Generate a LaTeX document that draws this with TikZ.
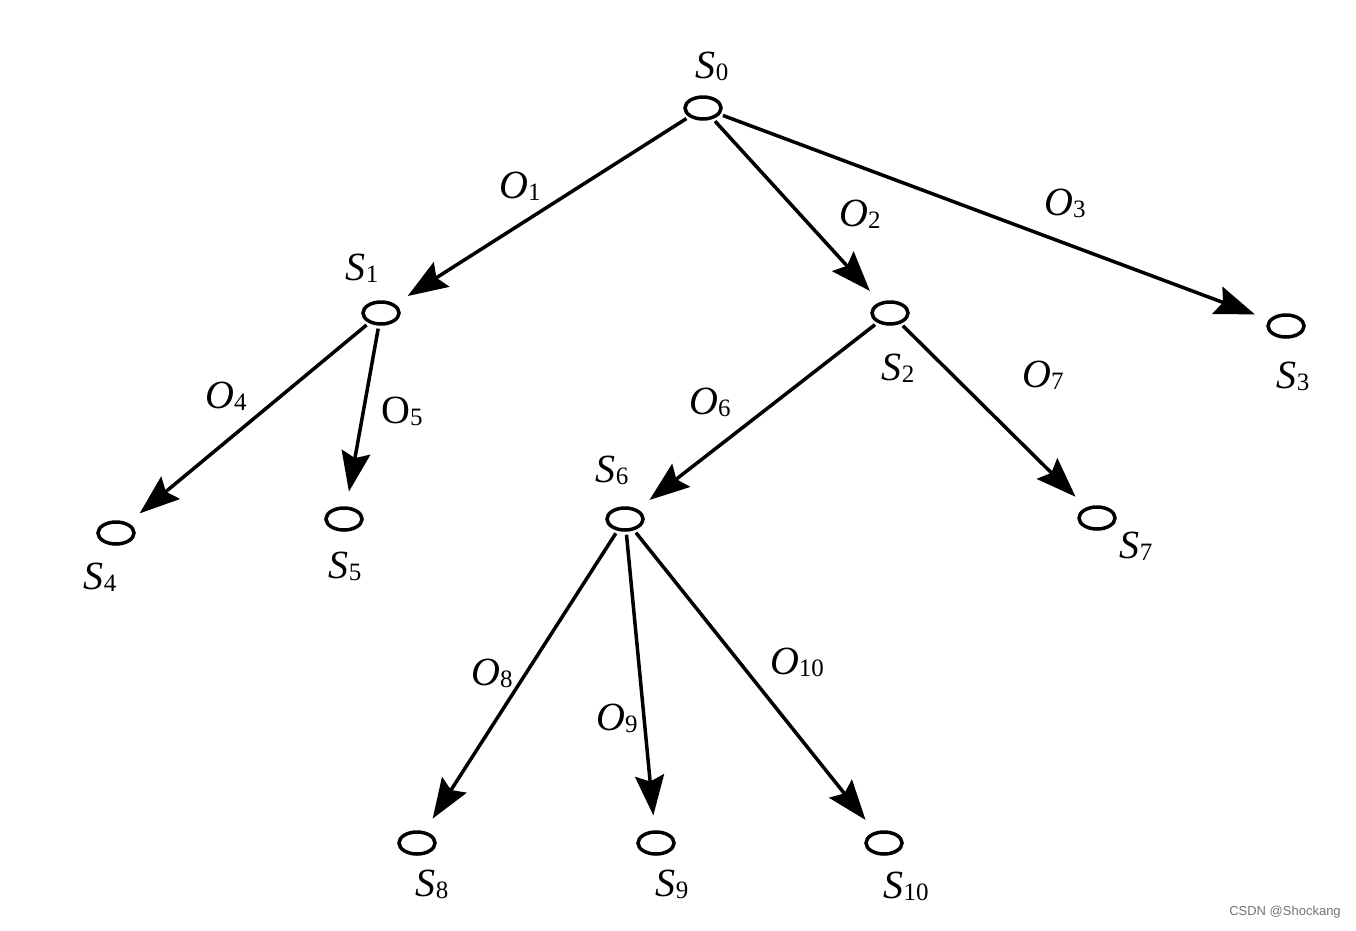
\documentclass[tikz,border=0pt]{standalone}
\usepackage{fontspec}
\setmainfont{Liberation Serif}
\newfontfamily\wmfont{Liberation Sans}
\usetikzlibrary{shapes.geometric,arrows.meta}
\newcommand{\lab}[2]{{\fontsize{40}{40}\selectfont\itshape #1}\raisebox{-0.2em}{\fontsize{25}{25}\selectfont\upshape #2}}
\newcommand{\labup}[2]{{\fontsize{40}{40}\selectfont\upshape #1}\raisebox{-0.2em}{\fontsize{25}{25}\selectfont\upshape #2}}
\tikzset{
  st/.style={ellipse,draw,line width=3.5pt,minimum width=36pt,minimum height=22pt,inner sep=0pt},
  tx/.style={inner sep=0pt,anchor=center},
  arr/.style={line width=3.5pt,-{Stealth[length=40pt,width=29pt,inset=6pt]},shorten >=15pt,shorten <=3pt}
}
\begin{document}
\begin{tikzpicture}[x=1pt,y=-1pt]
\useasboundingbox (0,0) rectangle (1356,930);
\fill[white] (0,0) rectangle (1356,930);
\node[st] (s0) at (703,108) {};
\node[st] (s1) at (381,313) {};
\node[st] (s2) at (890,313) {};
\node[st] (s3) at (1286,326) {};
\node[st] (s4) at (116,533) {};
\node[st] (s5) at (344,519) {};
\node[st] (s6) at (625,519) {};
\node[st] (s7) at (1097,518) {};
\node[st] (s8) at (417,843) {};
\node[st] (s9) at (656,843) {};
\node[st] (s10) at (884,843) {};
\node[tx] (l0) at (712,66) {\lab{S}{0}};
\node[tx] (l1) at (362,268) {\lab{S}{1}};
\node[tx] (l2) at (898,368) {\lab{S}{2}};
\node[tx] (l3) at (1293,376) {\lab{S}{3}};
\node[tx] (l4) at (100,577) {\lab{S}{4}};
\node[tx] (l5) at (345,566) {\lab{S}{5}};
\node[tx] (l6) at (612,470) {\lab{S}{6}};
\node[tx] (l7) at (1136,546) {\lab{S}{7}};
\node[tx] (l8) at (432,884) {\lab{S}{8}};
\node[tx] (l9) at (672,884) {\lab{S}{9}};
\node[tx] (l10) at (906,886) {\lab{S}{10}};
\node[tx] (o1) at (520,186) {\lab{O}{1}};
\node[tx] (o2) at (860,214) {\lab{O}{2}};
\node[tx] (o3) at (1065,203) {\lab{O}{3}};
\node[tx] (o4) at (226,396) {\lab{O}{4}};
\node[tx] (o5) at (402,411) {\labup{O}{5}};
\node[tx] (o6) at (710,402) {\lab{O}{6}};
\node[tx] (o7) at (1043,375) {\lab{O}{7}};
\node[tx] (o8) at (492,673) {\lab{O}{8}};
\node[tx] (o9) at (617,718) {\lab{O}{9}};
\node[tx] (o10) at (797,662) {\lab{O}{10}};
\draw[arr] (s0) -- (s1);
\draw[arr] (s0) -- (s2);
\draw[arr] (s0) -- (s3);
\draw[arr] (s1) -- (s4);
\draw[arr] (s1) -- (s5);
\draw[arr] (s2) -- (s6);
\draw[arr] (s2) -- (s7);
\draw[arr] (s6) -- (s8);
\draw[arr] (s6) -- (s9);
\draw[arr] (s6) -- (s10);
\node[tx,text=black!55] (wm) at (1285,912) {\wmfont\fontsize{13}{13}\selectfont CSDN @Shockang};
\end{tikzpicture}
\end{document}
